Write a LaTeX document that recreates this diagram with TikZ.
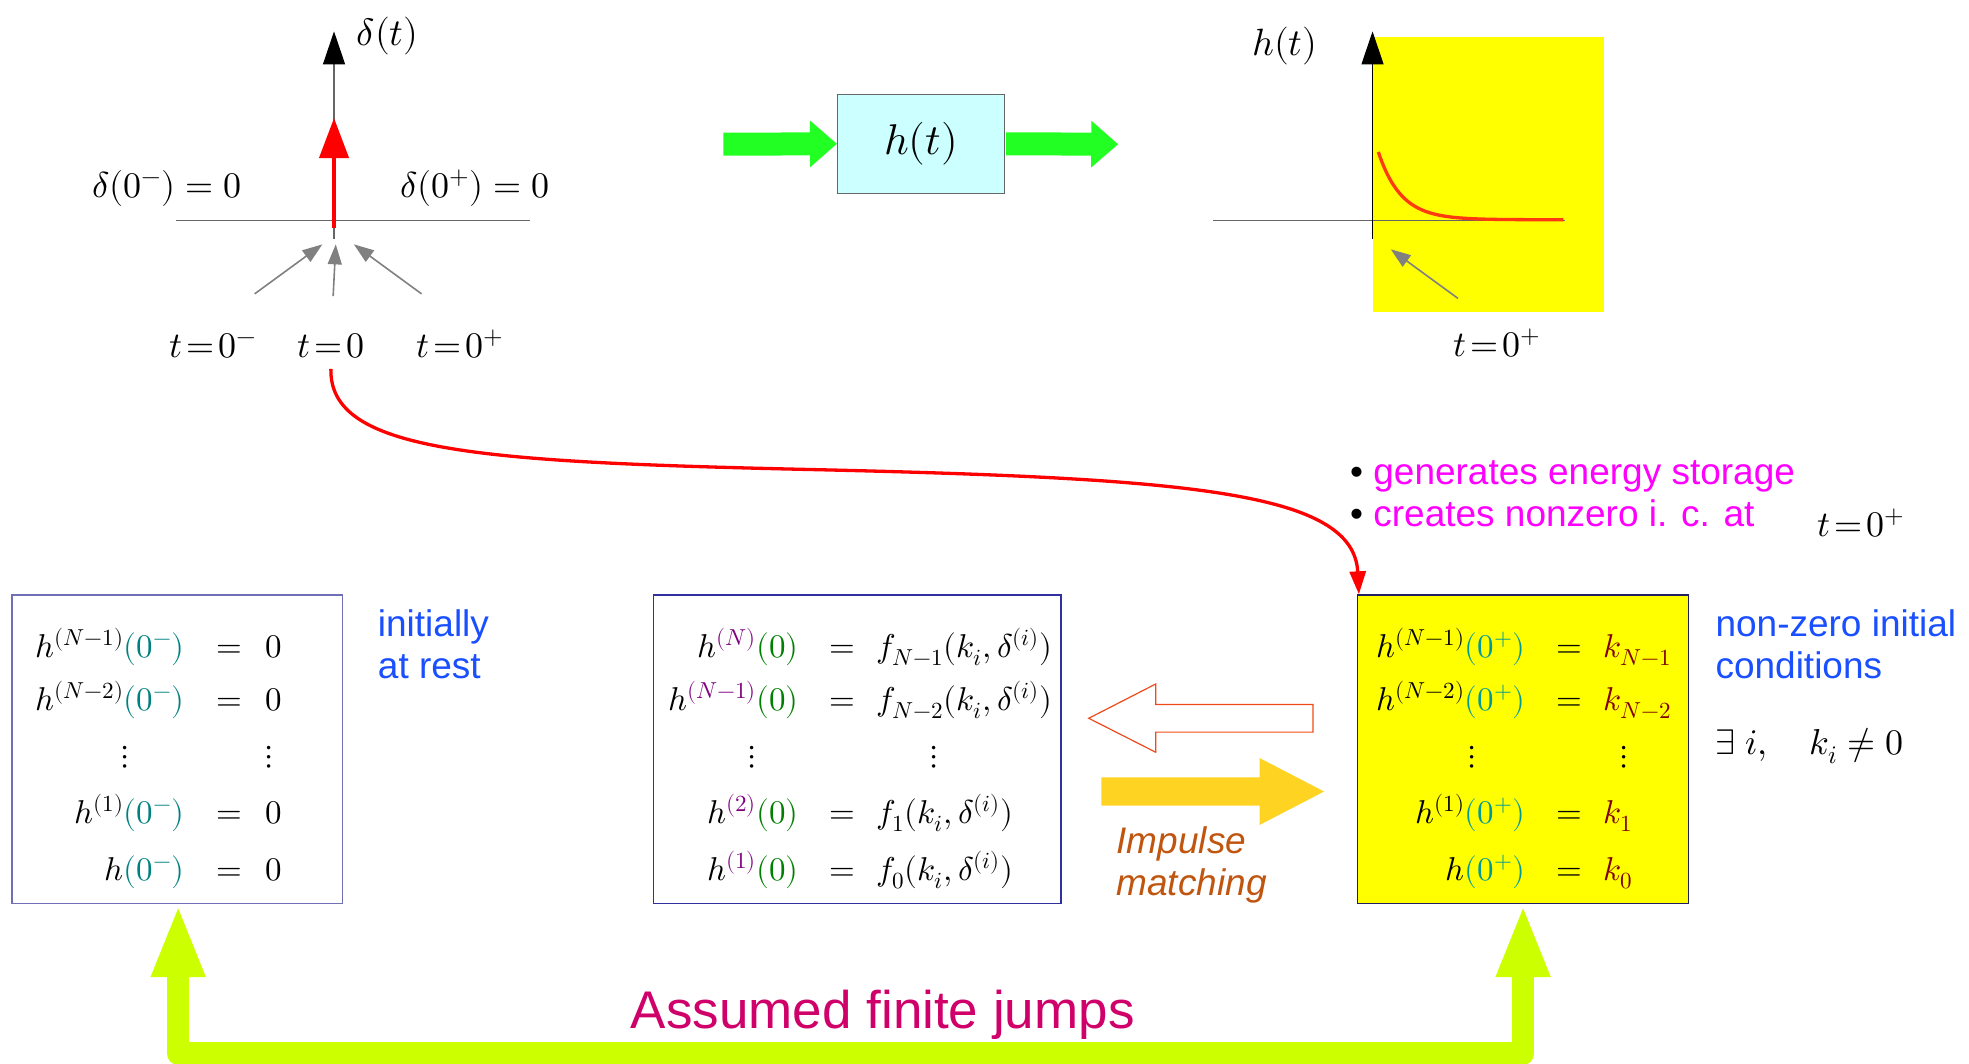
\documentclass[tikz,border=0pt]{standalone}
\usepackage{unicode-math}
\setmathfont{Latin Modern Math}
\newfontfamily\sansf{Liberation Sans}
\usetikzlibrary{arrows.meta}
\definecolor{tealA}{HTML}{008080}
\definecolor{tealB}{HTML}{009A9A}
\definecolor{purp}{HTML}{800080}
\definecolor{grnA}{HTML}{008000}
\definecolor{dred}{HTML}{800000}
\definecolor{blueT}{HTML}{1A4FFF}
\definecolor{magT}{HTML}{FF00FF}
\definecolor{crim}{HTML}{D0006A}
\definecolor{brownT}{HTML}{C0550F}
\definecolor{limeA}{HTML}{CCFF00}
\definecolor{greenA}{HTML}{22FF22}
\definecolor{hollowC}{HTML}{F04A1A}
\definecolor{goldA}{HTML}{FFD322}
\definecolor{curveC}{HTML}{FF3A10}
\definecolor{cyanF}{HTML}{CCFFFF}
\definecolor{boxL}{HTML}{7070B8}
\definecolor{boxM}{HTML}{3030A0}
\definecolor{boxR}{HTML}{202060}
\definecolor{axisG}{HTML}{666666}
\definecolor{arrG}{HTML}{808080}
\definecolor{yelF}{HTML}{FFFF00}
\newcommand\eqrow[7]{%
  \node[eqn, anchor=base east] (#1l) at (#3,#2) {$#6$};
  \node[eqn, anchor=base] (#1e) at (#4,#2) {$=$};
  \node[eqn, anchor=base west] (#1r) at (#5,#2) {$#7$};}
\begin{document}
\begin{tikzpicture}[x=1.2557pt, y=-1.2557pt,
  eqn/.style={inner sep=0pt, font=\fontsize{33}{40}\selectfont},
  lab/.style={inner sep=0pt, font=\fontsize{36}{42}\selectfont},
  biglab/.style={inner sep=0pt, font=\fontsize{38}{44}\selectfont},
  sanslab/.style={inner sep=0pt, anchor=base west, font=\sansf\fontsize{37}{44}\selectfont},
  box/.style={rectangle, inner sep=0pt, line width=1.3pt, minimum height=308.4pt},
  thinax/.style={axisG, line width=1.3pt},
  grayarr/.style={arrG, line width=1.6pt, -{Triangle[length=20pt,width=14pt]}},
  greenarr/.style={greenA, line width=23pt, -{Triangle[length=27pt,width=45pt]}}
]
\useasboundingbox (0,0) rectangle (1568,847);

% ---------- left plot: delta(t)
\draw[thinax] (266,190) -- (266,25) [-{Triangle[length=33pt,width=22pt,color=black]}];
\draw[thinax] (140,175.5) -- (422,175.5);
\draw[red, line width=4.2pt, -{Triangle[length=40pt,width=29pt]}] (266,181.5) -- (266,94);
\node[biglab, anchor=base west] (dl) at (284,36) {$\mupdelta(t)$};
\node[lab, anchor=base west] (dm) at (73.5,157) {$\mupdelta(0^{-})=0$};
\node[lab, anchor=base west] (dp) at (318.5,157) {$\mupdelta(0^{+})=0$};
\node[lab, anchor=base] (tm) at (170,285) {$t\!=\!0^{-}$};
\node[lab, anchor=base] (t0) at (263.5,285) {$t\!=\!0$};
\node[lab, anchor=base] (tp) at (366.5,285) {$t\!=\!0^{+}$};
\coordinate (a1s) at (202.8,234); \coordinate (a1e) at (256.7,194.6);
\coordinate (a2s) at (265.3,235.8); \coordinate (a2e) at (267.4,194.6);
\coordinate (a3s) at (335.7,234); \coordinate (a3e) at (281.8,194.6);
\draw[grayarr] (a1s) -- (a1e);
\draw[grayarr] (a2s) -- (a2e);
\draw[grayarr] (a3s) -- (a3e);

% ---------- system box
\node[rectangle, draw=axisG, line width=1.2pt, fill=cyanF, minimum width=167pt, minimum height=99pt,
      font=\fontsize{43}{50}\selectfont] (hbox) at (733.5,114.5) {$h(t)$};
\coordinate (gin) at (576,114.85);
\coordinate (gout) at (890.5,114.85);
\draw[greenarr] (gin) -- (hbox.west);
\draw[greenarr] ([xshift=1pt]hbox.east) -- (gout);

% ---------- right plot: h(t)
\fill[yelF] (1093,29.7) rectangle (1277.5,248.7);
\draw[thinax] (966,175.5) -- (1246,175.5);
\draw[black, line width=1.3pt, -{Triangle[length=33pt,width=22pt]}] (1093,190) -- (1093,25);
\draw[curveC, line width=3.3pt] plot[domain=1097.6:1245, samples=80, smooth] (\x,{175-54*exp(-(\x-1097.6)/18)});
\coordinate (a4s) at (1161,237.6); \coordinate (a4e) at (1107.5,198.5);
\draw[grayarr] (a4s) -- (a4e);
\node[biglab, anchor=base west] (hl) at (997,44) {$h(t)$};
\node[lab, anchor=base] (tr) at (1192,284) {$t\!=\!0^{+}$};

% ---------- bullets
\node[sanslab, text=magT] (b1) at (1075,385.7) {{\color{black}•} generates energy storage};
\node[sanslab, text=magT] (b2) at (1075,419.4) {{\color{black}•} creates nonzero i. c. at};
\node[lab, anchor=base] (tb) at (1482,427) {$t\!=\!0^{+}$};

% ---------- boxes
\node[box, draw=boxL, minimum width=330.3pt] (Lbox) at (141.1,596.6) {};
\node[box, draw=boxM, minimum width=407.6pt] (Mbox) at (682.7,596.6) {};
\node[box, draw=boxR, fill=yelF, minimum width=331.1pt] (Rbox) at (1212.9,596.6) {};

% left box equations
\eqrow{L1}{523.5}{147}{183}{211}{h^{(N-1)}{\color{tealA}(0^{-})}}{0}
\eqrow{L2}{565.5}{147}{183}{211}{h^{(N-2)}{\color{tealA}(0^{-})}}{0}
\eqrow{L4}{655.5}{147}{183}{211}{h^{(1)}{\color{tealA}(0^{-})}}{0}
\eqrow{L5}{701}{147}{183}{211}{h{\color{tealA}(0^{-})}}{0}
\node[eqn] (Ld1) at (99.5,603) {$\vdots$};
\node[eqn] (Ld2) at (214,603) {$\vdots$};

% middle box equations
\eqrow{M1}{523.5}{636}{671}{698}{h^{\color{purp}(N)}{\color{grnA}(0)}}{f_{N-1}(k_i,\mupdelta^{(i)})}
\eqrow{M2}{565.5}{636}{671}{698}{h^{\color{purp}(N-1)}{\color{grnA}(0)}}{f_{N-2}(k_i,\mupdelta^{(i)})}
\eqrow{M4}{655.5}{636}{671}{698}{h^{\color{purp}(2)}{\color{grnA}(0)}}{f_{1}(k_i,\mupdelta^{(i)})}
\eqrow{M5}{701}{636}{671}{698}{h^{\color{purp}(1)}{\color{grnA}(0)}}{f_{0}(k_i,\mupdelta^{(i)})}
\node[eqn] (Md1) at (598.6,603) {$\vdots$};
\node[eqn] (Md2) at (744,603) {$\vdots$};

% right box equations
\eqrow{R1}{523.5}{1215}{1249.5}{1276.6}{h^{(N-1)}{\color{tealB}(0^{+})}}{{\color{dred}k_{N-1}}}
\eqrow{R2}{565.5}{1215}{1249.5}{1276.6}{h^{(N-2)}{\color{tealB}(0^{+})}}{{\color{dred}k_{N-2}}}
\eqrow{R4}{655.5}{1215}{1249.5}{1276.6}{h^{(1)}{\color{tealB}(0^{+})}}{{\color{dred}k_{1}}}
\eqrow{R5}{701}{1215}{1249.5}{1276.6}{h{\color{tealB}(0^{+})}}{{\color{dred}k_{0}}}
\node[eqn] (Rd1) at (1172,603) {$\vdots$};
\node[eqn] (Rd2) at (1293,603) {$\vdots$};

% ---------- side labels
\node[sanslab, text=blueT] (in1) at (300.8,506.5) {initially};
\node[sanslab, text=blueT] (in2) at (300.8,540) {at rest};
\node[sanslab, text=blueT] (nz1) at (1366,507) {non-zero initial};
\node[sanslab, text=blueT] (nz2) at (1366,540) {conditions};
\node[lab, anchor=base west] (ex) at (1366,601) {$\exists\;i,\quad k_i\neq 0$};

% ---------- impulse matching arrows
\draw[hollowC, line width=1.2pt, line join=miter]
  (1045.6,561) -- (920.3,561) -- (920.3,544.7) -- (867,572) -- (920.3,599) -- (920.3,583) -- (1045.6,583) -- cycle;
\fill[goldA]
  (877,619) -- (1003,619) -- (1003,603.6) -- (1054.4,630.3) -- (1003,657) -- (1003,641.6) -- (877,641.6) -- cycle;
\node[sanslab, text=brownT, font=\sansf\itshape\fontsize{37}{44}\selectfont] (im1) at (889,680) {Impulse};
\node[sanslab, text=brownT, font=\sansf\itshape\fontsize{37}{44}\selectfont] (im2) at (889,713) {matching};

% ---------- red curved arrow
\draw[red, line width=3.3pt, -{Triangle[length=23pt,width=16pt]}]
  ([yshift=-10pt]t0.south) .. controls (262,360) and (380,368) .. (650,374)
  .. controls (950,381) and (1078,392) .. ([xshift=2pt]Rbox.north west);

% ---------- assumed finite jumps
\coordinate (ub) at (700,839);
\draw[limeA, line width=22.6pt, line join=round,
  {Triangle[length=73pt,width=49pt]}-{Triangle[length=73pt,width=49pt]}]
  ([xshift=1pt]Lbox.south) |- (ub) -| (Rbox.south);
\node[inner sep=0pt, anchor=base, text=crim, font=\sansf\fontsize{53}{60}\selectfont] (aj) at (703,818.7) {Assumed finite jumps};
\end{tikzpicture}
\end{document}
